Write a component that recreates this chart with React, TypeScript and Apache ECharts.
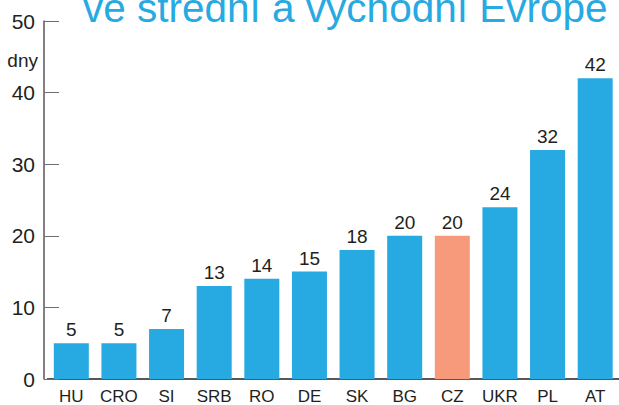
import React, { useEffect, useRef } from "react";
import * as echarts from "echarts";

const categories = ["HU", "CRO", "SI", "SRB", "RO", "DE", "SK", "BG", "CZ", "UKR", "PL", "AT"];
const values = [5, 5, 7, 13, 14, 15, 18, 20, 20, 24, 32, 42];
const highlight = "CZ";
const titleText = "ve střední a východní Evropě";
const unitText = "dny";

const BLUE = "#27a9e1";
const SALMON = "#f79a7b";
const FONT = "'Liberation Sans', Arial, sans-serif";

export default function App() {
  const ref = useRef<HTMLDivElement>(null);
  useEffect(() => {
    if (!ref.current) return;
    const chart = echarts.init(ref.current, null, { renderer: "svg" });
    chart.setOption({
      animation: false,
      backgroundColor: "#ffffff",
      textStyle: { fontFamily: FONT },
      grid: { left: 47.5, right: -4.5, top: 21, bottom: 24, containLabel: false },
      graphic: [
        {
          type: "text",
          x: 83,
          y: 8,
          style: {
            text: titleText,
            fontSize: 40.5,
            fontFamily: FONT,
            fill: BLUE,
            align: "left",
            verticalAlign: "middle",
          },
        },
        {
          type: "text",
          x: 38,
          y: 60,
          style: {
            text: unitText,
            fontSize: 19,
            fontFamily: FONT,
            fill: "#231f20",
            align: "right",
            verticalAlign: "middle",
          },
        },
      ],
      xAxis: {
        type: "category",
        data: categories,
        axisLine: { show: true, lineStyle: { color: "#231f20", width: 1.5 } },
        axisTick: { show: false },
        axisLabel: { color: "#231f20", fontSize: 17, margin: 9, interval: 0, fontFamily: FONT },
      },
      yAxis: {
        type: "value",
        min: 0,
        max: 50,
        interval: 10,
        offset: 3.5,
        splitLine: { show: false },
        axisLine: { show: true, lineStyle: { color: "#58595b", width: 1.5 } },
        axisTick: { show: true, inside: true, length: 15, lineStyle: { color: "#6d6e71", width: 1 } },
        axisLabel: { color: "#231f20", fontSize: 21, margin: 9, fontFamily: FONT },
      },
      series: [
        {
          type: "bar",
          barWidth: 35,
          data: values.map((v, i) => ({
            value: v,
            itemStyle: { color: categories[i] === highlight ? SALMON : BLUE },
          })),
          label: {
            show: true,
            position: "top",
            distance: 4,
            color: "#231f20",
            fontSize: 19,
            fontFamily: FONT,
          },
        },
      ],
    });
    return () => chart.dispose();
  }, []);
  return <div ref={ref} style={{ width: 619, height: 405, position: "absolute", left: 0, top: 0 }} />;
}
